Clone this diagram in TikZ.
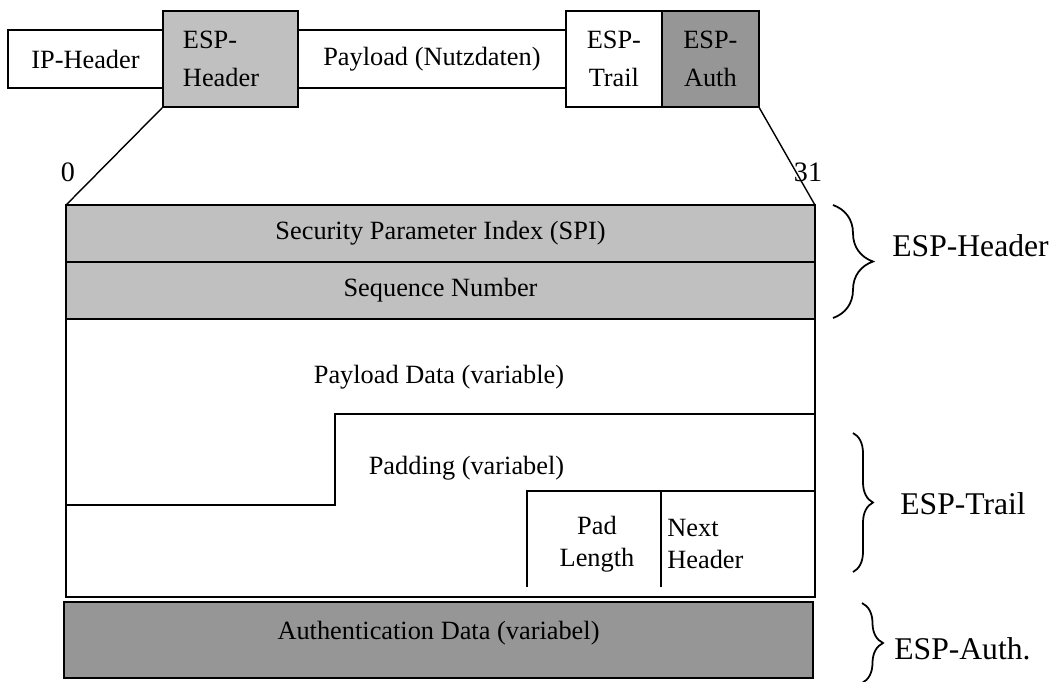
\documentclass[tikz,border=0pt]{standalone}
\usepackage{fontspec}
\setmainfont{Liberation Serif}
\usetikzlibrary{positioning,decorations.pathreplacing}
\definecolor{lightgrey}{RGB}{192,192,192}
\definecolor{darkgrey}{RGB}{150,150,150}
\tikzset{
  field/.style={draw, rectangle, line width=1pt, outer sep=0pt, inner sep=0pt, align=center, font=\fontsize{15}{22}\selectfont},
  row/.style={field, minimum width=14.98cm, minimum height=1.14cm},
  lbl/.style={inner sep=0pt, align=center, font=\fontsize{15}{18}\selectfont},
  side/.style={inner sep=0pt, anchor=west, font=\fontsize{18}{20}\selectfont},
  curly/.style={decorate, decoration={brace, amplitude=#1}, line width=1pt}
}

\begin{document}
\begin{tikzpicture}[x=0.02cm, y=-0.02cm]
    \clip (0,0) rectangle (1055,681);

    % Packet
    \node[field, minimum width=3.1cm, minimum height=1.16cm] (iphdr) at (85.5,59) {IP-Header};
    \node[field, fill=lightgrey, minimum width=2.7cm, minimum height=1.92cm, text width=1.9cm, align=left, right=0pt of iphdr] (esphdr) {ESP-\\Header};
    \node[field, minimum width=5.36cm, minimum height=1.16cm, right=0pt of esphdr] (payload) {Payload (Nutzdaten)};
    \node[field, minimum width=1.92cm, minimum height=1.92cm, right=0pt of payload] (esptrail) {ESP-\\Trail};
    \node[field, fill=darkgrey, minimum width=1.94cm, minimum height=1.92cm, right=0pt of esptrail] (espauth) {ESP-\\Auth};

    % ESP fields
    \node[row, fill=lightgrey] (spi) at (440.5,233.5) {Security Parameter Index (SPI)};
    \node[row, fill=lightgrey, below=0pt of spi] (seqnr) {Sequence Number};
    \node[row, minimum height=5.56cm, below=0pt of seqnr] (data) {};
    \node[row, fill=darkgrey, minimum height=1.52cm] (authdata) at (438.5,640) {};

    \node[lbl] (payloadtxt) at (439,377) {Payload Data (variable)};
    \node[lbl] (paddingtxt) at (466.5,468.5) {Padding (variabel)};
    \node[lbl] (padlen) at (597,544) {Pad\\Length};
    \node[lbl, anchor=west, align=left] (nexthdr) at (667,544) {Next\\Header};
    \node[lbl] (authtxt) at (438.5,633.5) {Authentication Data (variabel)};

    \draw[line width=1pt] (66,505) -- (335,505) -- (335,414) -- (815,414);
    \draw[line width=1pt] (815,491) -- (527,491) -- (527,587);
    \draw[line width=1pt] (661,491) -- (661,587);

    % Zoom lines
    \draw[line width=0.8pt] (esphdr.south west) -- (spi.north west);
    \draw[line width=0.8pt] (espauth.south east) -- (spi.north east);
    \node[side, anchor=center, font=\fontsize{16}{18}\selectfont] (bitfirst) at (68,172) {0};
    \node[side, anchor=center, font=\fontsize{16}{18}\selectfont] (bitlast) at (808,172) {31};

    % Braces
    \draw[curly=0.8cm] (833,205) -- (833,318);
    \node[side] (hdrlbl) at (892,246) {ESP-Header};
    \draw[curly=0.4cm] (853,433) -- (853,572);
    \node[side] (traillbl) at (900,504) {ESP-Trail};
    \draw[curly=0.42cm] (862,603) -- (862,683);
    \node[side] (authlbl) at (894,649) {ESP-Auth.};
\end{tikzpicture}
\end{document}
